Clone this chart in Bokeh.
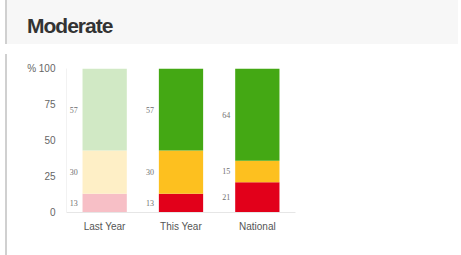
from bokeh.plotting import figure
from bokeh.models import ColumnDataSource, FactorRange, FixedTicker, Div
from bokeh.layouts import column, row
from bokeh.embed import file_html
from bokeh.resources import INLINE

# ---- data ----
title_text = "Moderate"
categories = ["Last Year", "This Year", "National"]
red_vals = [13, 13, 21]
yellow_vals = [30, 30, 15]
green_vals = [57, 57, 64]
y_ticks = [0, 25, 50, 75, 100]
y_tick_labels = ["0", "25", "50", "75", "% 100"]

# colours: Last Year drawn faded
full_cols = {"red": "#e2001a", "yellow": "#fdc01f", "green": "#44a814"}
faded_cols = {"red": "#f7bfc6", "yellow": "#feefc6", "green": "#d1e9c5"}

xs, bottoms, tops, colors, mids, labels = [], [], [], [], [], []
for i, cat in enumerate(categories):
    base = 0
    for name, vals in (("red", red_vals), ("yellow", yellow_vals), ("green", green_vals)):
        v = vals[i]
        xs.append(cat)
        bottoms.append(base)
        tops.append(base + v)
        mids.append(base + v / 2)
        labels.append(str(v))
        colors.append(faded_cols[name] if cat == "Last Year" else full_cols[name])
        base += v

src = ColumnDataSource(dict(x=xs, bottom=bottoms, top=tops, color=colors, mid=mids, label=labels))

p = figure(
    width=451, height=208,
    x_range=FactorRange(*categories, range_padding=0),
    y_range=(0, 100),
    output_backend="svg", toolbar_location=None,
    min_border_left=54, min_border_right=168, min_border_top=19, min_border_bottom=45,
)
p.vbar(x="x", bottom="bottom", top="top", width=0.58, color="color", line_color=None, source=src)
p.text(x="x", y="mid", text="label", x_offset=-27, text_align="right", text_baseline="middle",
       text_font_size="8px", text_color="#707070", text_font="Liberation Sans", source=src)

p.xgrid.visible = False
p.ygrid.visible = False
p.outline_line_color = None
p.background_fill_color = "white"
p.border_fill_color = "white"

p.yaxis.ticker = FixedTicker(ticks=y_ticks)
p.yaxis.major_label_overrides = {t: l for t, l in zip(y_ticks, y_tick_labels)}
p.yaxis.major_tick_line_color = None
p.yaxis.minor_tick_line_color = None
p.yaxis.axis_line_color = "#f2f2f2"
p.yaxis.major_label_standoff = 5
p.yaxis.major_label_text_font = "Liberation Sans"
p.yaxis.major_label_text_font_size = "10px"
p.yaxis.major_label_text_color = "#666666"

p.xaxis.major_tick_line_color = None
p.xaxis.minor_tick_line_color = None
p.xaxis.axis_line_color = "#e6e6e6"
p.xaxis.major_label_standoff = 2
p.xaxis.major_label_text_font = "Liberation Sans"
p.xaxis.major_label_text_font_size = "10px"
p.xaxis.major_label_text_color = "#555555"

header = Div(
    text=("<div style='box-sizing:border-box;width:453px;height:47px;background:#f7f7f7;"
          "border-top:2px solid #c6c6c6;border-left:2px solid #d0d0d0;padding-left:20px;padding-top:4px;"
          "font-family:\"Liberation Sans\",Arial,sans-serif;font-weight:bold;font-size:21px;"
          "letter-spacing:-1px;color:#333333;line-height:45px;overflow:hidden;'>" + title_text + "</div>"),
    width=453, height=47,
)
left_border = Div(text="<div style='width:2px;height:208px;background:#d0d0d0;'></div>", width=2, height=208)

layout = column(header, row(left_border, p, spacing=0), spacing=0, margin=(-8, 0, 0, 0))

open("out.html", "w").write(file_html(layout, INLINE))
